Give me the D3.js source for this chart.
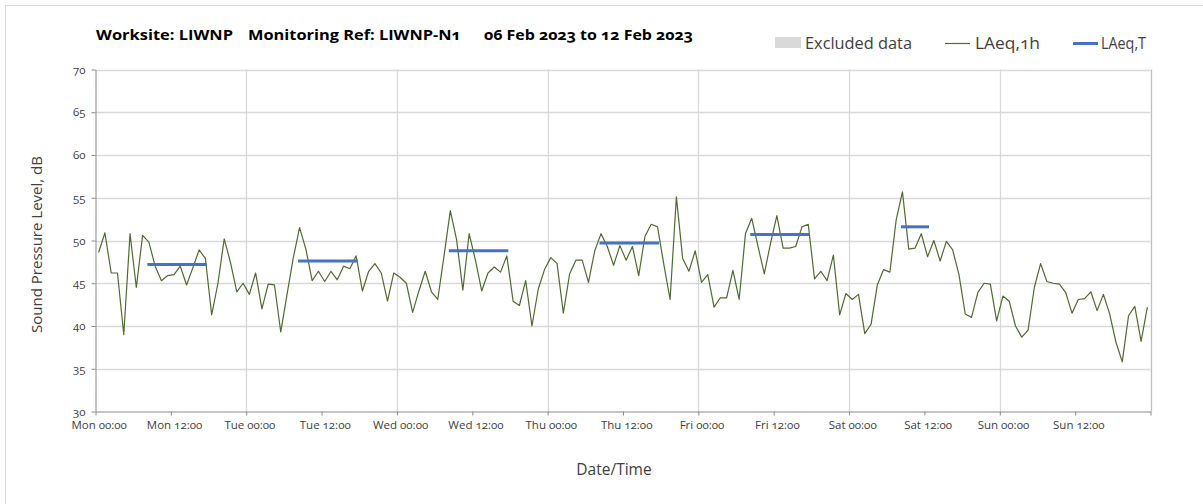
<!DOCTYPE html>
<html><head><meta charset="utf-8">
<script src="https://cdn.jsdelivr.net/npm/d3@7"></script>
<style>
body{margin:0;background:#fff;}
svg{font-family:"Open Sans",Lato,sans-serif;font-feature-settings:"onum" 1;font-variant-numeric:oldstyle-nums;}
</style></head><body>
<svg id="chart" width="1203" height="504"></svg>
<script>
// ---- data ----
const startDate = new Date(2023, 1, 6, 0, 0);   // Mon 06 Feb 2023 00:00
const endDate = new Date(2023, 1, 13, 0, 0);
const yTicks = [30, 35, 40, 45, 50, 55, 60, 65, 70];
const dayNames = ["Mon", "Tue", "Wed", "Thu", "Fri", "Sat", "Sun"];
// hourly LAeq,1h (hour beginning), Mon 00:00 .. Sun 23:00
const laeq1h = [
  48.6,50.9,46.2,46.2,39.0,50.8,44.5,50.6,49.8,47.0,45.3,45.9,46.0,47.0,44.8,46.8,48.9,47.9,41.3,45.0,50.2,47.4,44.0,45.0,
  43.7,46.2,42.0,44.9,44.8,39.3,43.7,48.0,51.5,49.0,45.3,46.4,45.2,46.4,45.4,47.0,46.7,48.2,44.1,46.4,47.3,46.2,42.9,46.2,
  45.7,45.0,41.6,44.1,46.4,44.0,43.1,48.2,53.5,50.1,44.2,50.8,47.7,44.1,46.2,46.9,46.3,48.2,42.9,42.4,45.3,40.0,44.3,46.6,
  48.0,47.3,41.5,46.1,47.7,47.7,45.1,48.8,50.8,49.3,47.1,49.4,47.7,49.3,45.9,50.5,51.9,51.6,47.2,43.1,55.1,47.9,46.4,48.8,
  45.1,46.0,42.2,43.3,43.3,46.5,43.1,50.8,52.6,49.3,46.1,49.7,52.9,49.1,49.1,49.3,51.6,51.9,45.5,46.4,45.3,48.3,41.3,43.8,
  43.1,43.7,39.1,40.2,44.8,46.6,46.3,52.4,55.7,49.0,49.1,50.8,48.1,50.0,47.6,49.9,48.9,46.0,41.4,41.0,43.9,45.0,44.9,40.6,
  43.5,42.9,40.0,38.7,39.5,44.5,47.3,45.2,45.0,44.9,43.9,41.5,43.1,43.2,44.0,41.8,43.7,41.4,38.1,35.8,41.2,42.3,38.2,42.2
];
// LAeq,T assessment periods
const periodDay = [0, 1, 2, 3, 4, 5];
const periodStartHour = [8, 8, 8, 8, 8, 8];
const periodEndHour = [18, 18, 18, 18, 18, 13];
const laeqT = [47.2, 47.6, 48.8, 49.7, 50.7, 51.6];

// ---- chart ----
const svg = d3.select("#chart");
const HOUR = 3600 * 1000;
const x = d3.scaleTime().domain([startDate, endDate]).range([95.5, 1150.5]);
const y = d3.scaleLinear().domain([30, 70]).range([411.5, 69.5]);
const at = h => new Date(startDate.getTime() + h * HOUR);

// outer frame
svg.append("rect").attr("x", 5.5).attr("y", 5.5).attr("width", 1400).attr("height", 700)
  .attr("fill", "none").attr("stroke", "#d9d9d9").attr("stroke-width", 1);

// gridlines
const grid = svg.append("g");
grid.selectAll("line.h").data(yTicks.filter(v => v > 30)).join("line")
  .attr("x1", x(startDate)).attr("x2", x(endDate))
  .attr("y1", d => Math.round(y(d)) + 0.5).attr("y2", d => Math.round(y(d)) + 0.5)
  .attr("stroke", "#d9d9d9").attr("stroke-width", 1.3);
const dayBounds = d3.range(1, 8).map(d => at(d * 24));
grid.selectAll("line.v").data(dayBounds).join("line")
  .attr("x1", d => Math.round(x(d)) + 0.5).attr("x2", d => Math.round(x(d)) + 0.5)
  .attr("y1", y(70)).attr("y2", y(30))
  .attr("stroke", d => d.getTime() === endDate.getTime() ? "#bfbfbf" : "#d9d9d9").attr("stroke-width", 1.3);

// axes
const xTickVals = d3.range(0, 169, 12).map(h => at(h));
const halfHourPx = x(at(0.5)) - x(at(0));
const xAxis = d3.axisBottom(x).tickValues(xTickVals).tickSize(4).tickSizeOuter(0)
  .tickFormat((d, i) => i === xTickVals.length - 1 ? "" :
     dayNames[(d.getDay() + 6) % 7] + " " + d3.timeFormat("%H:%M")(d));
const gx = svg.append("g").attr("transform", `translate(0,${y(30)})`).call(xAxis);
gx.select(".domain").attr("stroke", "#8c8c8c");
gx.selectAll(".tick line").attr("stroke", "#8c8c8c");
gx.selectAll(".tick text").attr("x", halfHourPx).attr("dy", "0.95em")
  .attr("fill", "#404040").style("font-size", "11.5px").style("font-family", "'Open Sans', sans-serif");

const yAxis = d3.axisLeft(y).tickValues(yTicks).tickSize(4).tickSizeOuter(0).tickFormat(d3.format("d"));
const gy = svg.append("g").attr("transform", `translate(${x(startDate)},0)`).call(yAxis);
gy.select(".domain").attr("stroke", "#8c8c8c");
gy.selectAll(".tick line").attr("stroke", "#8c8c8c");
gy.selectAll(".tick text").attr("x", -10).attr("fill", "#404040")
  .style("font-size", "11.5px").style("font-family", "'Open Sans', sans-serif");

// LAeq,1h line
const line = d3.line().x((d, i) => x(at(i + 0.5))).y(d => y(d));
svg.append("path").datum(laeq1h).attr("d", line)
  .attr("fill", "none").attr("stroke", "#4f6b2f").attr("stroke-width", 1.2).attr("stroke-linejoin", "round");

// LAeq,T segments
svg.selectAll("line.t").data(laeqT).join("line")
  .attr("x1", (d, i) => x(at(periodDay[i] * 24 + periodStartHour[i] + 0.5)))
  .attr("x2", (d, i) => x(at(periodDay[i] * 24 + periodEndHour[i] - 0.5)))
  .attr("y1", d => y(d)).attr("y2", d => y(d))
  .attr("stroke", "#4472c4").attr("stroke-width", 3).attr("stroke-linecap", "square");

// title
const title = svg.append("g").style("font-weight", "bold").style("font-size", "14px").attr("fill", "#000");
title.append("text").attr("x", 96).attr("y", 39.5).attr("textLength", 137).attr("lengthAdjust", "spacingAndGlyphs").text("Worksite: LIWNP");
title.append("text").attr("x", 248).attr("y", 39.5).attr("textLength", 213).attr("lengthAdjust", "spacingAndGlyphs").text("Monitoring Ref: LIWNP-N1");
title.append("text").attr("x", 484).attr("y", 39.5).attr("textLength", 209).attr("lengthAdjust", "spacingAndGlyphs").text("06 Feb 2023 to 12 Feb 2023");

// legend
const lg = svg.append("g").style("font-size", "15.5px").attr("fill", "#404040");
lg.append("rect").attr("x", 775).attr("y", 37).attr("width", 26).attr("height", 11).attr("fill", "#d9d9d9");
lg.append("text").attr("x", 805).attr("y", 48.5).attr("textLength", 107).attr("lengthAdjust", "spacingAndGlyphs").text("Excluded data");
lg.append("line").attr("x1", 945).attr("x2", 970).attr("y1", 43.5).attr("y2", 43.5).attr("stroke", "#4f6b2f").attr("stroke-width", 1.2);
lg.append("text").attr("x", 975).attr("y", 48.5).attr("textLength", 65).attr("lengthAdjust", "spacingAndGlyphs").text("LAeq,1h");
lg.append("line").attr("x1", 1073).attr("x2", 1098).attr("y1", 43.5).attr("y2", 43.5).attr("stroke", "#4472c4").attr("stroke-width", 3);
lg.append("text").attr("x", 1101).attr("y", 48.5).attr("textLength", 45).attr("lengthAdjust", "spacingAndGlyphs").text("LAeq,T");

// axis titles
svg.append("text").attr("transform", `translate(42,${(y(30) + y(70)) / 2 + 4}) rotate(-90)`)
  .attr("text-anchor", "middle").style("font-size", "15px").attr("fill", "#404040").text("Sound Pressure Level, dB");
svg.append("text").attr("x", 614).attr("y", 475).attr("text-anchor", "middle")
  .style("font-size", "15.5px").attr("fill", "#404040").text("Date/Time");
</script></body></html>
